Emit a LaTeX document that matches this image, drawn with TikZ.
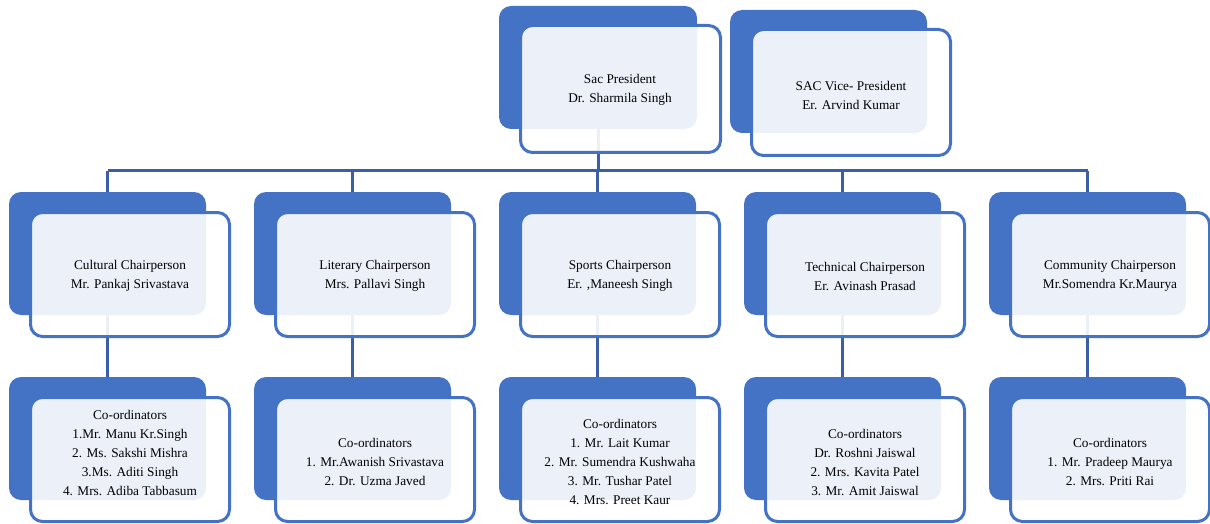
\documentclass[tikz,border=0pt]{standalone}
\usepackage{fontspec}
\setmainfont{Liberation Serif}
\newfontfamily\boxserif{Liberation Serif}
\usetikzlibrary{backgrounds}
\definecolor{blueone}{HTML}{4472C4}
\definecolor{connblue}{HTML}{3B5EA6}
\tikzset{
  backbox/.style={fill=blueone, rounded corners=12pt, minimum width=197pt, minimum height=123pt, inner sep=0pt, draw=none},
  frontbox/.style={draw=blueone, line width=3pt, fill=white, fill opacity=0.9, rounded corners=12pt, minimum width=199pt, minimum height=124pt, inner sep=0pt},
  txt/.style={align=center, font=\boxserif\fontsize{13.3}{19}\selectfont, text=black, inner sep=0pt, yshift=-1.5pt},
  conn/.style={draw=connblue, line width=3pt}
}
\begin{document}
\begin{tikzpicture}[x=1pt,y=1pt]
\useasboundingbox (0,0) rectangle (1210,-524);

% top row
\node[backbox, minimum width=198pt] (pres-b) at (598,-67.5) {};
\node[frontbox, minimum width=200pt, minimum height=127pt] (pres-f) at (620.5,-89) {};
\node[txt] (pres-t) at (620,-88) {Sac President\\Dr. Sharmila Singh};

\node[backbox] (vice-b) at (828.5,-71.5) {};
\node[frontbox, minimum height=126pt] (vice-f) at (851,-92.5) {};
\node[txt] (vice-t) at (851,-94) {SAC Vice- President\\Er. Arvind Kumar};

% chairpersons
\node[backbox] (cult-b) at (107.5,-253.5) {};
\node[frontbox] (cult-f) at (130,-274.5) {};
\node[txt] (cult-t) at (130,-274.5) {Cultural Chairperson\\Mr. Pankaj Srivastava};

\node[backbox] (lit-b) at (352.5,-253.5) {};
\node[frontbox] (lit-f) at (375,-274.5) {};
\node[txt] (lit-t) at (375,-274.5) {Literary Chairperson\\Mrs. Pallavi Singh};

\node[backbox] (spo-b) at (597.5,-253.5) {};
\node[frontbox] (spo-f) at (620,-274.5) {};
\node[txt] (spo-t) at (620,-274.5) {Sports Chairperson\\Er. ,Maneesh Singh};

\node[backbox] (tec-b) at (842.5,-253.5) {};
\node[frontbox] (tec-f) at (865,-274.5) {};
\node[txt] (tec-t) at (865,-274.5) {Technical Chairperson\\Er. Avinash Prasad};

\node[backbox] (com-b) at (1087.5,-253.5) {};
\node[frontbox] (com-f) at (1110,-274.5) {};
\node[txt] (com-t) at (1110,-274.5) {Community Chairperson\\Mr.Somendra Kr.Maurya};

% coordinators
\node[backbox] (cultc-b) at (107.5,-438.5) {};
\node[frontbox] (cultc-f) at (130,-459.5) {};
\node[txt] (cultc-t) at (130,-451) {Co-ordinators\\1.Mr. Manu Kr.Singh\\2. Ms. Sakshi Mishra\\3.Ms. Aditi Singh\\4. Mrs. Adiba Tabbasum};

\node[backbox] (litc-b) at (352.5,-438.5) {};
\node[frontbox] (litc-f) at (375,-459.5) {};
\node[txt] (litc-t) at (375,-460.5) {Co-ordinators\\1. Mr.Awanish Srivastava\\2. Dr. Uzma Javed};

\node[backbox] (spoc-b) at (597.5,-438.5) {};
\node[frontbox] (spoc-f) at (620,-459.5) {};
\node[txt] (spoc-t) at (620,-460.5) {Co-ordinators\\1. Mr. Lait Kumar\\2. Mr. Sumendra Kushwaha\\3. Mr. Tushar Patel\\4. Mrs. Preet Kaur};

\node[backbox] (tecc-b) at (842.5,-438.5) {};
\node[frontbox] (tecc-f) at (865,-459.5) {};
\node[txt] (tecc-t) at (865,-460.5) {Co-ordinators\\Dr. Roshni Jaiswal\\2. Mrs. Kavita Patel\\3. Mr. Amit Jaiswal};

\node[backbox] (comc-b) at (1087.5,-438.5) {};
\node[frontbox] (comc-f) at (1110,-459.5) {};
\node[txt] (comc-t) at (1110,-460.5) {Co-ordinators\\1. Mr. Pradeep Maurya\\2. Mrs. Priti Rai};

% connectors behind
\coordinate (bus) at (0,-170.5);
\begin{scope}[on background layer]
  \draw[conn] (pres-b.center) -- (pres-b.center |- bus);
  \draw[conn] (cult-b.center |- bus) -- (com-b.center |- bus);
  \foreach \c in {cult,lit,spo,tec,com}{
    \draw[conn] (\c-b.center |- bus) -- (\c-b.center) -- (\c c-b.center);
  }
\end{scope}
\end{tikzpicture}
\end{document}
